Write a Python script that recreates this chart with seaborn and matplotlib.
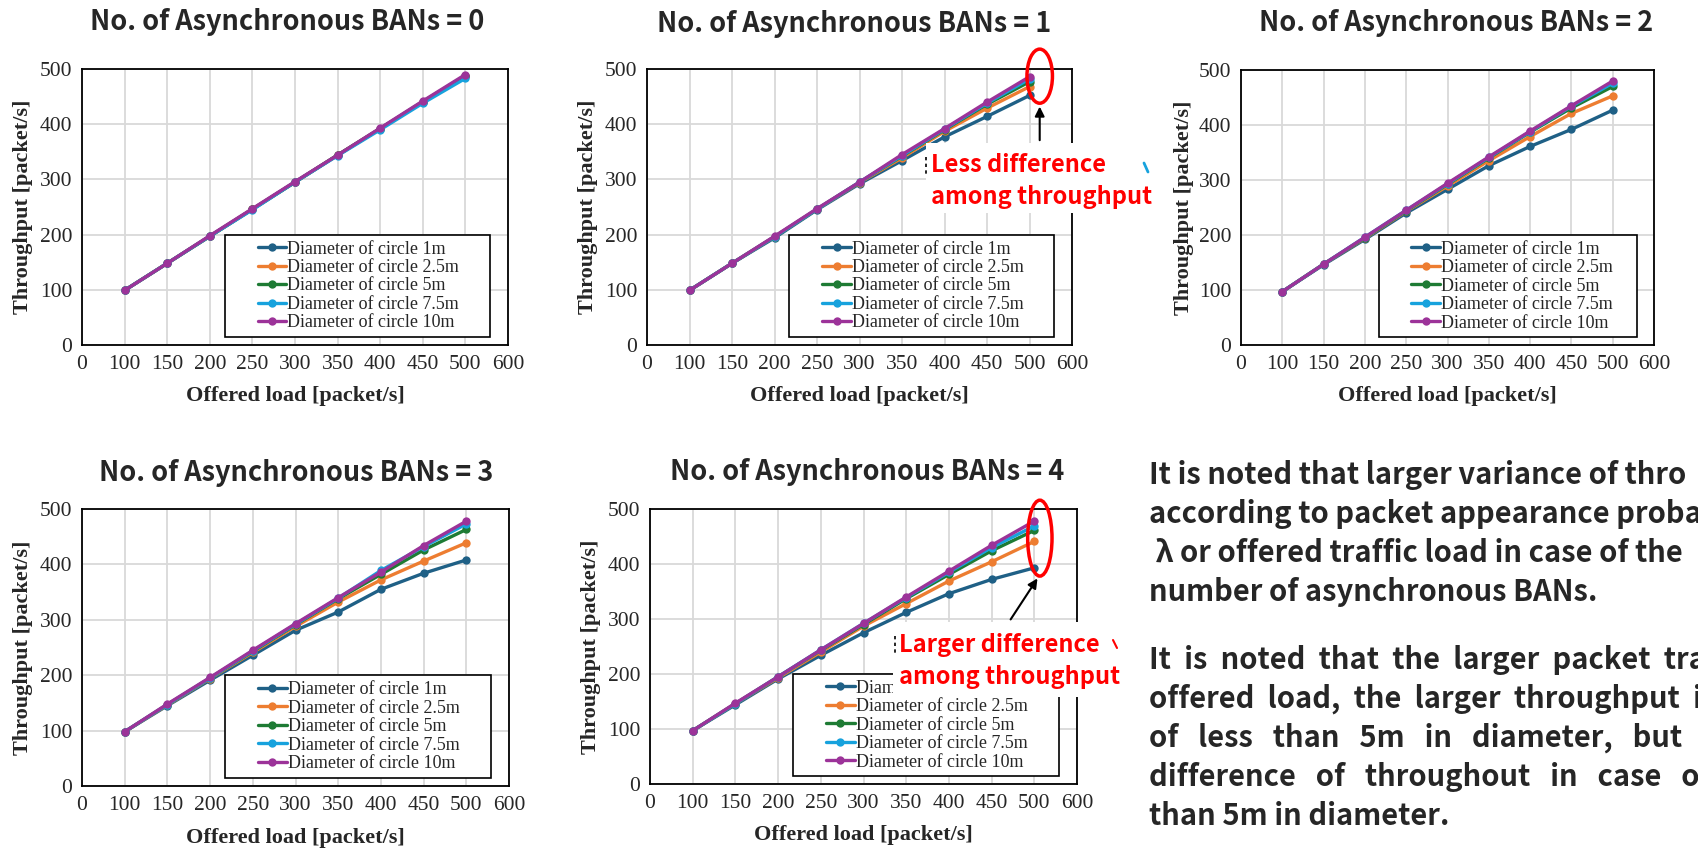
import numpy as np
import pandas as pd
import matplotlib
matplotlib.use("Agg")
import matplotlib.pyplot as plt
import seaborn as sns
from matplotlib.patches import Ellipse, Rectangle
from matplotlib.lines import Line2D

sns.set_style("white")
plt.rcParams["font.family"] = ["Liberation Serif", "DejaVu Serif"]

# data
offered_load = [100, 150, 200, 250, 300, 350, 400, 450, 500]
x_tick_labels = ["0", "100", "150", "200", "250", "300", "350", "400", "450", "500", "600"]
diameters = ["Diameter of circle 1m", "Diameter of circle 2.5m", "Diameter of circle 5m",
             "Diameter of circle 7.5m", "Diameter of circle 10m"]
colors = ["#1F6086", "#ED7D31", "#1E7B34", "#17A2DD", "#9C3399"]

ban0 = [[99, 148, 197, 246, 295, 344, 392, 440, 487],
        [99, 148, 197, 246, 295, 344, 392, 440, 487],
        [99, 148, 197, 246, 295, 344, 392, 441, 488],
        [99, 148, 197, 245, 295, 343, 390, 438, 483],
        [99, 148, 198, 247, 296, 344, 393, 442, 490]]
ban1 = [[99, 148, 194, 245, 292, 334, 377, 414, 452],
        [99, 148, 196, 246, 294, 339, 387, 429, 468],
        [99, 148, 196, 246, 295, 342, 390, 436, 477],
        [99, 148, 196, 246, 295, 343, 391, 438, 482],
        [99, 148, 197, 247, 295, 345, 392, 440, 486]]
ban2 = [[97, 146, 192, 240, 283, 326, 361, 392, 427],
        [97, 147, 194, 243, 289, 335, 379, 421, 453],
        [97, 147, 195, 244, 292, 340, 387, 431, 470],
        [97, 147, 196, 245, 293, 341, 388, 434, 476],
        [97, 147, 196, 245, 294, 342, 389, 435, 480]]
ban3 = [[98, 145, 191, 236, 281, 314, 355, 384, 408],
        [98, 146, 194, 241, 288, 332, 372, 406, 439],
        [98, 147, 195, 243, 291, 338, 382, 426, 463],
        [98, 147, 195, 244, 292, 339, 389, 432, 473],
        [98, 148, 196, 245, 293, 340, 386, 434, 478]]
ban4 = [[97, 144, 191, 234, 275, 312, 346, 372, 393],
        [97, 146, 193, 240, 287, 328, 369, 404, 441],
        [97, 146, 195, 243, 290, 337, 381, 424, 461],
        [97, 146, 195, 244, 292, 339, 385, 430, 469],
        [97, 147, 195, 244, 292, 340, 387, 434, 478]]
panels = [ban0, ban1, ban2, ban3, ban4]
titles = ["No. of Asynchronous BANs = %d" % i for i in range(5)]

note1 = ["It is noted that larger variance of thro",
         "according to packet appearance proba",
         " λ or offered traffic load in case of the",
         "number of asynchronous BANs."]
note2 = ["It  is  noted  that  the  larger  packet  tra",
         "offered  load,  the  larger  throughput  i",
         "of   less   than   5m   in   diameter,   but   a",
         "difference   of   throughout   in   case   of",
         "than 5m in diameter."]

W, H = 1698, 849
fig = plt.figure(figsize=(W / 100, H / 100), dpi=100)

# axes boxes in pixels: left, right, top, bottom
boxes = [(82, 508, 69, 345), (647, 1072, 69, 345), (1241, 1654, 70, 345),
         (82, 509, 509, 786), (650, 1077, 509, 784)]
title_pos = [(287, 22), (854, 24), (1456, 23), (296, 473), (867, 472)]

sans = ["Noto Sans CJK JP", "DejaVu Sans"]
pos = [x_tick_labels.index(str(v)) for v in offered_load]


def fig_box(x0, y0, x1, y1, **kw):
    # rectangle given in reference pixels (top-left origin)
    fig.patches.append(Rectangle((x0 / W, 1 - y1 / H), (x1 - x0) / W, (y1 - y0) / H,
                                 transform=fig.transFigure, figure=fig, **kw))


axes = []
for k, (l, r, t, b) in enumerate(boxes):
    ax = fig.add_axes([l / W, 1 - b / H, (r - l) / W, (b - t) / H])
    axes.append(ax)
    rows = []
    for name, vals in zip(diameters, panels[k]):
        for p, v in zip(pos, vals):
            rows.append({"pos": p, "thr": v, "diameter": name})
    df = pd.DataFrame(rows)
    sns.lineplot(data=df, x="pos", y="thr", hue="diameter", hue_order=diameters,
                 palette=colors, marker="o", markersize=6, markeredgewidth=0,
                 linewidth=2.4, ax=ax)
    ax.set_xlim(0, 10)
    ax.set_ylim(0, 500)
    ax.set_xticks(range(len(x_tick_labels)))
    ax.set_xticklabels(x_tick_labels)
    ax.set_yticks([0, 100, 200, 300, 400, 500])
    ax.tick_params(length=0, labelsize=15.5, pad=7)
    ax.grid(True, color="#D9D9D9", linewidth=1.3)
    ax.set_axisbelow(True)
    for s in ax.spines.values():
        s.set_color("black")
        s.set_linewidth(1.3)
    ax.set_xlabel("Offered load [packet/s]", fontsize=16, fontweight="bold")
    ax.set_ylabel("Throughput [packet/s]", fontsize=16, fontweight="bold")
    ax.xaxis.set_label_coords(0.5, -0.15)
    ax.yaxis.set_label_coords(-0.115, 0.5)
    # legend frame, wider than the entries as in the slide
    ax.add_patch(Rectangle((0.335, 0.028), 0.623, 0.372, transform=ax.transAxes,
                           facecolor="white", edgecolor="black", linewidth=1.2, zorder=4))
    h, lab = ax.get_legend_handles_labels()
    leg = ax.legend(h, lab, loc="center left", bbox_to_anchor=(0.412, 0.214),
                    fontsize=13, frameon=False, borderpad=0, labelspacing=0.08,
                    handlelength=1.6, handletextpad=0.05, borderaxespad=0)
    leg.set_zorder(6)
    tx, ty = title_pos[k]
    fig.text(tx / W, 1 - ty / H, titles[k], ha="center", va="center",
             fontsize=19.5, fontweight="bold", family=sans)

# callouts on panels 1 and 4
ax = axes[1]
ax.add_patch(Ellipse((9.24, 487), 0.6, 98, fill=False, edgecolor="red", linewidth=2.5,
                     clip_on=False, zorder=7))
ax.annotate("", xy=(9.24, 437), xytext=(9.24, 366),
            arrowprops=dict(arrowstyle="-|>", color="black", lw=1.5, mutation_scale=14),
            zorder=7)
fig_box(926, 143, 1137, 213, facecolor="white", edgecolor="none")
fig.add_artist(Line2D([926 / W, 926 / W], [1 - 157 / H, 1 - 177 / H], color="black",
                      linewidth=1.2, linestyle=(0, (2, 2))))
fig.text(931 / W, 1 - 181 / H, "Less difference\namong throughput", ha="left", va="center",
         color="red", fontsize=17, fontweight="bold", family=sans, linespacing=1.4)

ax = axes[4]
ax.add_patch(Ellipse((9.13, 447), 0.57, 138, fill=False, edgecolor="red", linewidth=2.5,
                     clip_on=False, zorder=7))
ax.annotate("", xy=(9.11, 378), xytext=(8.41, 295),
            arrowprops=dict(arrowstyle="-|>", color="black", lw=1.5, mutation_scale=14),
            zorder=7)
fig_box(893, 622, 1115, 697, facecolor="white", edgecolor="none")
fig.add_artist(Line2D([895 / W, 895 / W], [1 - 636 / H, 1 - 654 / H], color="black",
                      linewidth=1.2, linestyle=(0, (2, 2))))
fig.text(899 / W, 1 - 661 / H, "Larger difference\namong throughput", ha="left", va="center",
         color="red", fontsize=17, fontweight="bold", family=sans, linespacing=1.4)

# stray marks of neighbouring shapes on the slide
fig.add_artist(Line2D([1144 / W, 1148 / W], [1 - 163 / H, 1 - 172 / H], color="#17A2DD",
                      linewidth=2))
fig.add_artist(Line2D([1113 / W, 1117 / W], [1 - 640 / H, 1 - 648 / H], color="red",
                      linewidth=1.5))

# explanation text on the right (runs off the slide edge, as in the original)
for i, line in enumerate(note1):
    fig.text(1149 / W, 1 - (475 + 39 * i) / H, line, ha="left", va="center",
             fontsize=21, fontweight="bold", family=sans)
for i, line in enumerate(note2):
    fig.text(1149 / W, 1 - (660 + 39 * i) / H, line, ha="left", va="center",
             fontsize=21, fontweight="bold", family=sans)

fig.savefig("out.png", dpi=100)
